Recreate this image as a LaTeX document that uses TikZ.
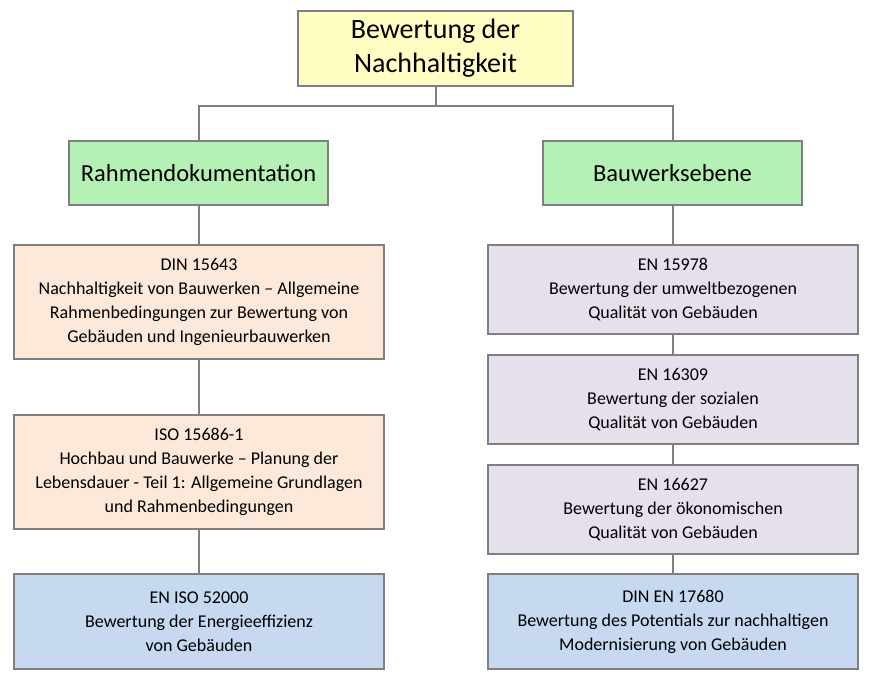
\documentclass[tikz,border=0pt]{standalone}
\usepackage{fontspec}
\setmainfont{Carlito}
\definecolor{yel}{HTML}{FFFFC4}
\definecolor{grn}{HTML}{B5F0B5}
\definecolor{pch}{HTML}{FCE9DA}
\definecolor{lav}{HTML}{E5E0EC}
\definecolor{blu}{HTML}{C6D9F1}
\definecolor{edge}{HTML}{7F7F7F}
\begin{document}
\begin{tikzpicture}[x=1pt,y=-1pt,
  bx/.style={draw=edge,line width=1.2pt,align=center,inner sep=0pt,font=\fontsize{18}{24}\selectfont},
  ln/.style={draw=edge,line width=2pt}]
\useasboundingbox (0,0) rectangle (872,680);
\draw[ln] (436,86) -- (436,106) coordinate (j);
\draw[ln] (j) -| (199,141);
\draw[ln] (j) -| (673,141);
\draw[ln] (199,205) -- (199,574);
\draw[ln] (673,205) -- (673,574);
\node[bx,fill=yel,minimum width=275,minimum height=75,font=\fontsize{28}{34}\selectfont] (top) at (435.5,48.5) {Bewertung der\\Nachhaltigkeit};
\node[bx,fill=grn,minimum width=259,minimum height=64,font=\fontsize{24.5}{28}\selectfont] (rd) at (198.5,173) {Rahmendokumentation};
\node[bx,fill=grn,minimum width=259,minimum height=64,font=\fontsize{24.5}{28}\selectfont] (be) at (672.5,173) {Bauwerksebene};
\node[bx,fill=pch,minimum width=370,minimum height=114] (l1) at (199,302) {DIN 15643\\Nachhaltigkeit von Bauwerken – Allgemeine\\Rahmenbedingungen zur Bewertung von\\Gebäuden und Ingenieurbauwerken};
\node[bx,fill=pch,minimum width=370,minimum height=114] (l2) at (199,472) {ISO 15686-1\\Hochbau und Bauwerke – Planung der\\Lebensdauer - Teil 1: Allgemeine Grundlagen\\und Rahmenbedingungen};
\node[bx,fill=blu,minimum width=370,minimum height=95] (l3) at (199,621.5) {EN ISO 52000\\Bewertung der Energieeffizienz\\von Gebäuden};
\node[bx,fill=lav,minimum width=370,minimum height=89] (r1) at (673,289.5) {EN 15978\\Bewertung der umweltbezogenen\\Qualität von Gebäuden};
\node[bx,fill=lav,minimum width=370,minimum height=89] (r2) at (673,399.5) {EN 16309\\Bewertung der sozialen\\Qualität von Gebäuden};
\node[bx,fill=lav,minimum width=370,minimum height=89] (r3) at (673,509.5) {EN 16627\\Bewertung der ökonomischen\\Qualität von Gebäuden};
\node[bx,fill=blu,minimum width=370,minimum height=95] (r4) at (673,621.5) {DIN EN 17680\\Bewertung des Potentials zur nachhaltigen\\Modernisierung von Gebäuden};
\end{tikzpicture}
\end{document}
